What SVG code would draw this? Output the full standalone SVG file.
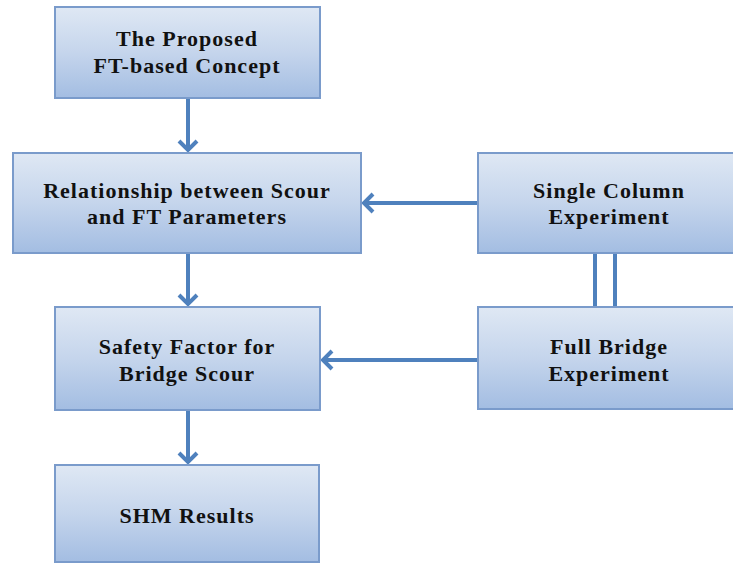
<svg xmlns="http://www.w3.org/2000/svg" width="733" height="564" viewBox="0 0 733 564">
<defs>
<linearGradient id="g" x1="0" y1="0" x2="0" y2="1">
<stop offset="0" stop-color="#dfe8f4"/>
<stop offset="0.5" stop-color="#c5d5ec"/>
<stop offset="1" stop-color="#a3bde2"/>
</linearGradient>
<marker id="ah" viewBox="0 0 14 22" refX="12" refY="11" markerWidth="14" markerHeight="22" markerUnits="userSpaceOnUse" orient="auto">
<path d="M2,2 L11,11 L2,20" fill="none" stroke="#4f81bd" stroke-width="4"/>
</marker>
<style>
.box{fill:url(#g);stroke:#7a9bcb;stroke-width:2}
.t{font-family:"Liberation Serif","Times New Roman",serif;font-weight:bold;font-size:22px;letter-spacing:1px;fill:#111;text-anchor:middle}
.c{stroke:#4f81bd;stroke-width:4;fill:none}
</style>
</defs>
<rect width="733" height="564" fill="#fff"/>
<g id="connectors">
<line class="c" x1="188" y1="98" x2="188" y2="151" marker-end="url(#ah)"/>
<line class="c" x1="188" y1="253" x2="188" y2="305" marker-end="url(#ah)"/>
<line class="c" x1="188" y1="410" x2="188" y2="463" marker-end="url(#ah)"/>
<line class="c" x1="478" y1="203" x2="363" y2="203" marker-end="url(#ah)"/>
<line class="c" x1="478" y1="360" x2="322" y2="360" marker-end="url(#ah)"/>
<line class="c" x1="595" y1="253" x2="595" y2="307"/>
<line class="c" x1="615" y1="253" x2="615" y2="307"/>
</g>
<g id="n1"><rect class="box" x="55" y="7" width="265" height="91"/>
<text class="t" x="187" y="46">The Proposed</text><text class="t" x="187" y="73">FT-based Concept</text></g>
<g id="n2"><rect class="box" x="13" y="153" width="348" height="100"/>
<text class="t" x="187" y="198">Relationship between Scour</text><text class="t" x="187" y="224">and FT Parameters</text></g>
<g id="n3"><rect class="box" x="55" y="307" width="265" height="103"/>
<text class="t" x="187" y="354">Safety Factor for</text><text class="t" x="187" y="381">Bridge Scour</text></g>
<g id="n4"><rect class="box" x="55" y="465" width="264" height="97"/>
<text class="t" x="187" y="523">SHM Results</text></g>
<g id="n5"><rect class="box" x="478" y="153" width="262" height="100"/>
<text class="t" x="609" y="198">Single Column</text><text class="t" x="609" y="224">Experiment</text></g>
<g id="n6"><rect class="box" x="478" y="307" width="262" height="102"/>
<text class="t" x="609" y="354">Full Bridge</text><text class="t" x="609" y="381">Experiment</text></g>
</svg>
